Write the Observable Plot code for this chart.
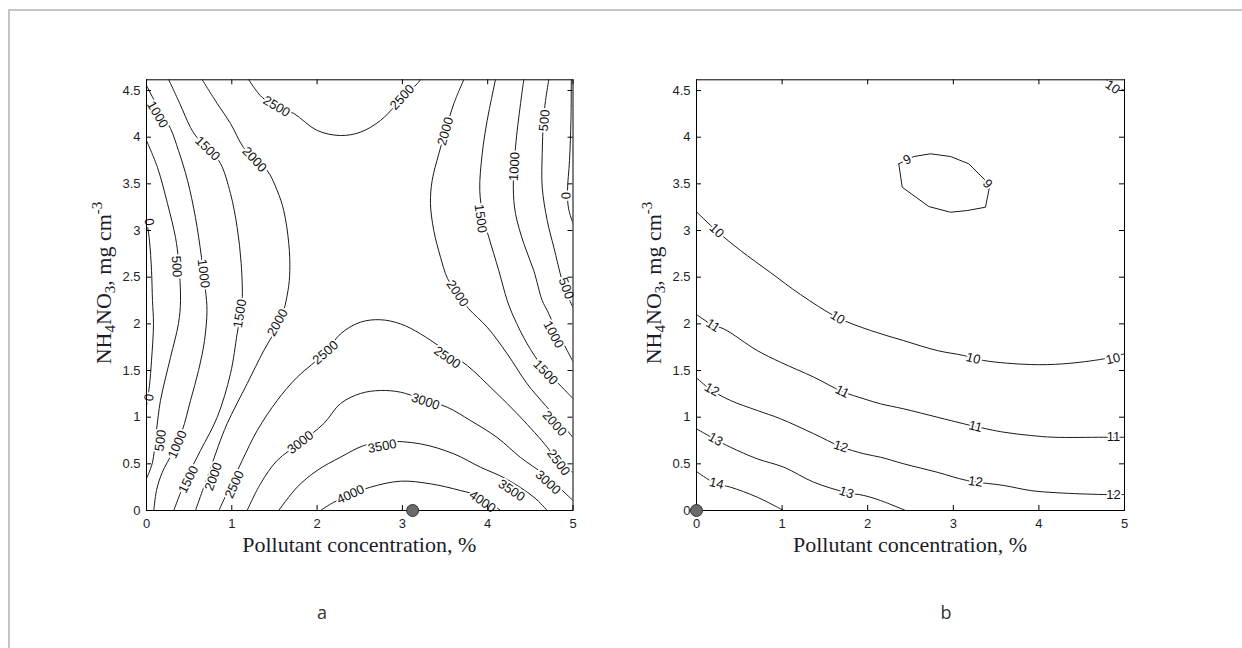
<!DOCTYPE html>
<html>
<head>
<meta charset="utf-8">
<script src="https://cdn.jsdelivr.net/npm/d3@7"></script>
<script src="https://cdn.jsdelivr.net/npm/@observablehq/plot@0.6"></script>
<style>
  html, body { margin: 0; padding: 0; background: #fff; overflow: hidden; }
  #fig { position: relative; width: 1242px; height: 648px; overflow: hidden; background: #fff; }
  #fig svg { position: absolute; top: 0; }
  #border { position: absolute; left: 8px; top: 9px; width: 1400px; height: 800px;
            border-top: 2px solid #c4c4c4; border-left: 2px solid #c4c4c4; pointer-events: none; }
</style>
</head>
<body>
<div id="fig"></div>
<script>
// ---------- shared axes ----------
const xTicks = [0, 1, 2, 3, 4, 5];
const yTicks = [0, 0.5, 1, 1.5, 2, 2.5, 3, 3.5, 4, 4.5];
const xDomain = [0, 5];
const yDomain = [0, 4.615];
const xLabel = "Pollutant concentration, %";
const captions = ["a", "b"];

// ---------- panel a : contour lines [x, y] ----------
const a0L = [[0,3.13],[0.035,2.89],[0.059,2.57],[0.07,2.25],[0.082,2.0],[0.059,1.61],[0.035,1.34],[0,1.125]];
const a0R = [[4.98,4.615],[4.976,4.18],[4.959,3.75],[4.936,3.43],[4.947,3.24],[5,3.075]];
const a500L = [[0,3.964],[0.129,3.675],[0.246,3.289],[0.34,2.925],[0.375,2.679],[0.399,2.25],[0.375,2.004],[0.281,1.639],[0.164,1.179],[0.117,0.857],[0.067,0.504],[0,0.343]];
const a500R = [[4.716,4.615],[4.678,4.394],[4.654,4.179],[4.639,3.825],[4.639,3.464],[4.698,3.107],[4.775,2.821],[4.873,2.464],[4.936,2.304],[5,2.175]];
const a1000L = [[0,4.554],[0.141,4.308],[0.281,4.093],[0.375,3.857],[0.481,3.536],[0.574,3.139],[0.645,2.711],[0.692,2.357],[0.709,2.143],[0.68,1.821],[0.61,1.5],[0.516,1.179],[0.419,0.857],[0.305,0.621],[0.184,0.407],[0.117,0.214],[0.086,0]];
const a1000R = [[4.423,4.615],[4.385,4.361],[4.326,3.893],[4.3,3.464],[4.326,3.182],[4.423,2.861],[4.54,2.571],[4.639,2.25],[4.698,2.143],[4.795,1.95],[4.932,1.714],[5,1.596]];
const a1500L = [[0.261,4.615],[0.39,4.361],[0.516,4.104],[0.594,3.996],[0.75,3.857],[0.868,3.718],[0.985,3.396],[1.063,3.032],[1.11,2.646],[1.122,2.25],[1.102,2.111],[1.063,1.897],[0.985,1.468],[0.829,1.0],[0.633,0.643],[0.457,0.321],[0.32,0]];
const a1500R = [[4.091,4.615],[3.994,4.179],[3.936,3.825],[3.907,3.429],[3.951,3.129],[4.013,2.928],[4.13,2.571],[4.229,2.25],[4.306,2.071],[4.463,1.786],[4.631,1.554],[4.807,1.382],[5,1.2]];
const a2000L = [[0.653,4.615],[0.829,4.361],[0.985,4.147],[1.137,3.889],[1.278,3.75],[1.415,3.643],[1.532,3.429],[1.609,3.214],[1.668,2.861],[1.68,2.571],[1.659,2.357],[1.571,2.036],[1.375,1.714],[1.181,1.361],[0.946,0.932],[0.844,0.696],[0.75,0.45],[0.657,0.214],[0.574,0]];
const a2000R = [[3.719,4.615],[3.602,4.358],[3.505,4.072],[3.427,3.822],[3.349,3.536],[3.329,3.289],[3.368,3.0],[3.447,2.714],[3.529,2.486],[3.646,2.325],[3.775,2.164],[3.994,1.964],[4.229,1.679],[4.463,1.357],[4.678,1.125],[4.853,0.943],[5,0.782]];
const a2500T = [[1.199,4.615],[1.356,4.426],[1.536,4.329],[1.727,4.254],[2.001,4.072],[2.274,4.018],[2.509,4.054],[2.743,4.179],[2.919,4.34],[3.036,4.458],[3.173,4.572],[3.212,4.615]];
const a2500B = [[0.848,0],[0.985,0.268],[1.122,0.536],[1.298,0.857],[1.532,1.179],[1.767,1.429],[2.099,1.693],[2.274,1.893],[2.509,2.018],[2.743,2.044],[2.977,2.0],[3.212,1.893],[3.505,1.714],[3.759,1.554],[4.072,1.286],[4.385,1.0],[4.698,0.678],[4.83,0.514],[5,0.407]];
const a3000 = [[1.18,0],[1.336,0.286],[1.532,0.536],[1.805,0.729],[2.079,0.932],[2.274,1.146],[2.509,1.254],[2.743,1.286],[2.977,1.268],[3.212,1.2],[3.525,1.107],[3.798,0.964],[4.111,0.782],[4.385,0.568],[4.678,0.375],[5,0.107]];
const a3500 = [[1.55,0],[1.766,0.25],[2.0,0.429],[2.274,0.571],[2.548,0.696],[2.802,0.739],[3.212,0.714],[3.603,0.607],[3.915,0.464],[4.208,0.343],[4.541,0.143],[4.698,0]];
const a4000 = [[2.04,0],[2.196,0.089],[2.392,0.171],[2.626,0.25],[2.977,0.314],[3.329,0.286],[3.681,0.214],[3.915,0.15],[4.15,0]];

// panel a : contour labels [text, x, y]
const aLabels = [
  ["0",0.03,3.09],["0",0.03,1.21],["0",4.912,3.375],
  ["500",0.352,2.614],["500",0.164,0.75],["500",4.666,4.179],["500",4.92,2.38],
  ["1000",0.129,4.243],["1000",0.668,2.54],["1000",0.363,0.707],["1000",4.314,3.686],["1000",4.771,1.886],
  ["1500",0.715,3.879],["1500",1.096,2.111],["1500",0.492,0.332],["1500",3.916,3.129],["1500",4.678,1.479],
  ["2000",1.266,3.761],["2000",1.536,2.014],["2000",0.785,0.364],["2000",3.505,4.063],["2000",3.646,2.325],["2000",4.783,0.932],
  ["2500",1.524,4.329],["2500",2.998,4.428],["2500",2.098,1.693],["2500",3.525,1.639],["2500",4.83,0.514],["2500",1.032,0.279],
  ["3000",1.805,0.729],["3000",3.271,1.168],["3000",4.707,0.3],
  ["3500",2.763,0.688],["3500",4.279,0.214],
  ["4000",2.392,0.171],["4000",3.939,0.096]
];
const aMarker = [3.12, 0];

// ---------- panel b : contour lines [x, y] ----------
const b9 = [[2.363,3.715],[2.539,3.793],[2.734,3.822],[2.967,3.793],[3.181,3.715],[3.376,3.536],[3.426,3.482],[3.376,3.25],[3.162,3.214],[2.967,3.196],[2.714,3.257],[2.403,3.464],[2.363,3.715]];
const b10 = [[0,3.2],[0.234,2.997],[0.514,2.786],[0.864,2.55],[1.215,2.314],[1.647,2.068],[2.033,1.929],[2.418,1.821],[2.812,1.714],[3.123,1.661],[3.357,1.607],[3.902,1.564],[4.291,1.572],[4.758,1.625],[5,1.679]];
const b10c = [[4.79,4.615],[4.9,4.545],[5,4.5]];
const b11 = [[0,2.1],[0.199,1.982],[0.319,1.946],[0.709,1.714],[0.981,1.589],[1.37,1.429],[1.702,1.275],[1.955,1.197],[2.15,1.143],[2.422,1.089],[2.812,1.0],[3.123,0.929],[3.259,0.9],[3.59,0.839],[3.902,0.804],[4.174,0.785],[4.758,0.785],[5,0.785]];
const b12 = [[0,1.422],[0.164,1.296],[0.397,1.179],[0.709,1.072],[0.981,0.983],[1.37,0.822],[1.682,0.686],[1.955,0.608],[2.15,0.571],[2.422,0.5],[2.812,0.41],[3.163,0.321],[3.59,0.268],[3.902,0.214],[4.214,0.19],[4.758,0.171],[5,0.171]];
const b13 = [[0,0.875],[0.222,0.761],[0.397,0.678],[0.709,0.554],[1.02,0.464],[1.37,0.303],[1.752,0.193],[1.955,0.161],[2.15,0.107],[2.442,0]];
const b14 = [[0,0.418],[0.222,0.289],[0.397,0.25],[0.709,0.143],[1.016,0]];

// panel b : contour labels [text, x, y]
const bLabels = [
  ["10",0.234,2.997],["10",1.647,2.068],["10",3.234,1.63],["10",4.866,1.625],["10",4.86,4.536],
  ["9",2.46,3.76],["9",3.4,3.5],
  ["11",0.193,1.982],["11",1.702,1.275],["11",3.259,0.9],["11",4.871,0.785],
  ["12",0.18,1.296],["12",1.686,0.686],["12",3.26,0.31],["12",4.871,0.171],
  ["13",0.222,0.761],["13",1.752,0.193],
  ["14",0.234,0.289]
];
const bMarker = [0, 0];

// ---------- drawing ----------
const fig = document.getElementById("fig");
const serif = "'Liberation Serif','Times New Roman',serif";

function panel({lines, smooth, labels, marker, left, marginRight, caption}) {
  const W = 620, H = 648;
  const mL = 146, mT = 79.3, mB = 138, mR = marginRight;
  const iw = W - mL - mR, ih = H - mT - mB;
  const kx = iw / (xDomain[1] - xDomain[0]), ky = ih / (yDomain[1] - yDomain[0]);
  const angleAt = (x, y) => {
    let best = Infinity, ang = 0;
    for (const pts of lines) for (let i = 0; i < pts.length - 1; i++) {
      const ax = pts[i][0] * kx, ay = -pts[i][1] * ky, bx = pts[i+1][0] * kx, by = -pts[i+1][1] * ky;
      const px = x * kx, py = -y * ky, dx = bx - ax, dy = by - ay;
      const L = dx * dx + dy * dy || 1;
      let t = ((px - ax) * dx + (py - ay) * dy) / L; t = Math.max(0, Math.min(1, t));
      const d = Math.hypot(ax + t * dx - px, ay + t * dy - py);
      if (d < best) { best = d; ang = Math.atan2(dy, dx) * 180 / Math.PI; }
    }
    if (ang > 90) ang -= 180; if (ang <= -90) ang += 180;
    return ang;
  };
  const labelRows = labels.map(([t, x, y]) => ({t, x, y, r: angleAt(x, y)}));
  const svgNode = Plot.plot({
    width: W, height: H,
    marginLeft: mL, marginRight: mR, marginTop: mT, marginBottom: mB,
    style: {fontFamily: "'Liberation Sans', Arial, sans-serif", fontSize: "13px", color: "#1e1e28", background: "transparent", overflow: "visible"},
    x: {domain: xDomain, ticks: xTicks, tickSize: 0, tickPadding: 8, tickFormat: d => String(d), label: null},
    y: {domain: yDomain, ticks: yTicks, tickSize: 0, tickPadding: 6, tickFormat: d => String(d), label: null},
    marks: [
      ...lines.map((pts, i) => Plot.line(pts, {x: d => d[0], y: d => d[1], stroke: "#1a1a1a", strokeWidth: 1,
                                               curve: smooth[i] ? "catmull-rom" : "linear", clip: true})),
      Plot.text(labelRows, {x: "x", y: "y", text: "t", rotate: "r", fontSize: 13, fill: "#111",
                            stroke: "#fff", strokeWidth: 4, fontFamily: "'Liberation Sans', Arial, sans-serif"}),
      Plot.tickX(xTicks, {x: d => d, insetTop: ih - 5, stroke: "#000"}),
      Plot.tickX(xTicks, {x: d => d, insetBottom: ih - 5, stroke: "#000"}),
      Plot.tickY(yTicks, {y: d => d, insetRight: iw - 5, stroke: "#000"}),
      Plot.tickY(yTicks, {y: d => d, insetLeft: iw - 5, stroke: "#000"}),
      Plot.frame({stroke: "#000", strokeWidth: 1}),
      Plot.dot([marker], {x: d => d[0], y: d => d[1], r: 6, fill: "#6b6b6b", stroke: "#333", strokeWidth: 1})
    ]
  });
  svgNode.style.left = left + "px";
  fig.appendChild(svgNode);
  const svg = d3.select(svgNode);
  svg.append("text").attr("x", mL + iw / 2).attr("y", 552).attr("text-anchor", "middle")
    .attr("font-family", serif).attr("font-size", 22).attr("fill", "#1c1c2a").text(xLabel);
  const yl = svg.append("text").attr("transform", `translate(${mL - 35.5},283) rotate(-90)`)
    .attr("text-anchor", "middle").attr("font-family", serif).attr("font-size", 22).attr("fill", "#1c1c2a");
  yl.append("tspan").text("NH");
  yl.append("tspan").attr("font-size", 15).attr("dy", 4).text("4");
  yl.append("tspan").attr("dy", -4).text("NO");
  yl.append("tspan").attr("font-size", 15).attr("dy", 4).text("3");
  yl.append("tspan").attr("dy", -4).text(", mg cm");
  yl.append("tspan").attr("font-size", 15).attr("dy", -9).text("-3");
  svg.append("text").attr("x", caption.x).attr("y", 619).attr("text-anchor", "middle")
    .attr("font-family", "'Open Sans', 'Noto Sans', sans-serif").attr("font-size", 18).attr("fill", "#333")
    .text(caption.text);
}

panel({
  lines: [a0L, a0R, a500L, a500R, a1000L, a1000R, a1500L, a1500R, a2000L, a2000R, a2500T, a2500B, a3000, a3500, a4000],
  smooth: [1,1,1,1,1,1,1,1,1,1,1,1,1,1,1],
  labels: aLabels, marker: aMarker, left: 0, marginRight: 47.5,
  caption: {x: 322, text: captions[0]}
});
panel({
  lines: [b9, b10, b10c, b11, b12, b13, b14],
  smooth: [0,1,1,1,1,1,1],
  labels: bLabels, marker: bMarker, left: 550, marginRight: 46,
  caption: {x: 396, text: captions[1]}
});

const border = document.createElement("div");
border.id = "border";
fig.appendChild(border);
</script>
</body>
</html>
